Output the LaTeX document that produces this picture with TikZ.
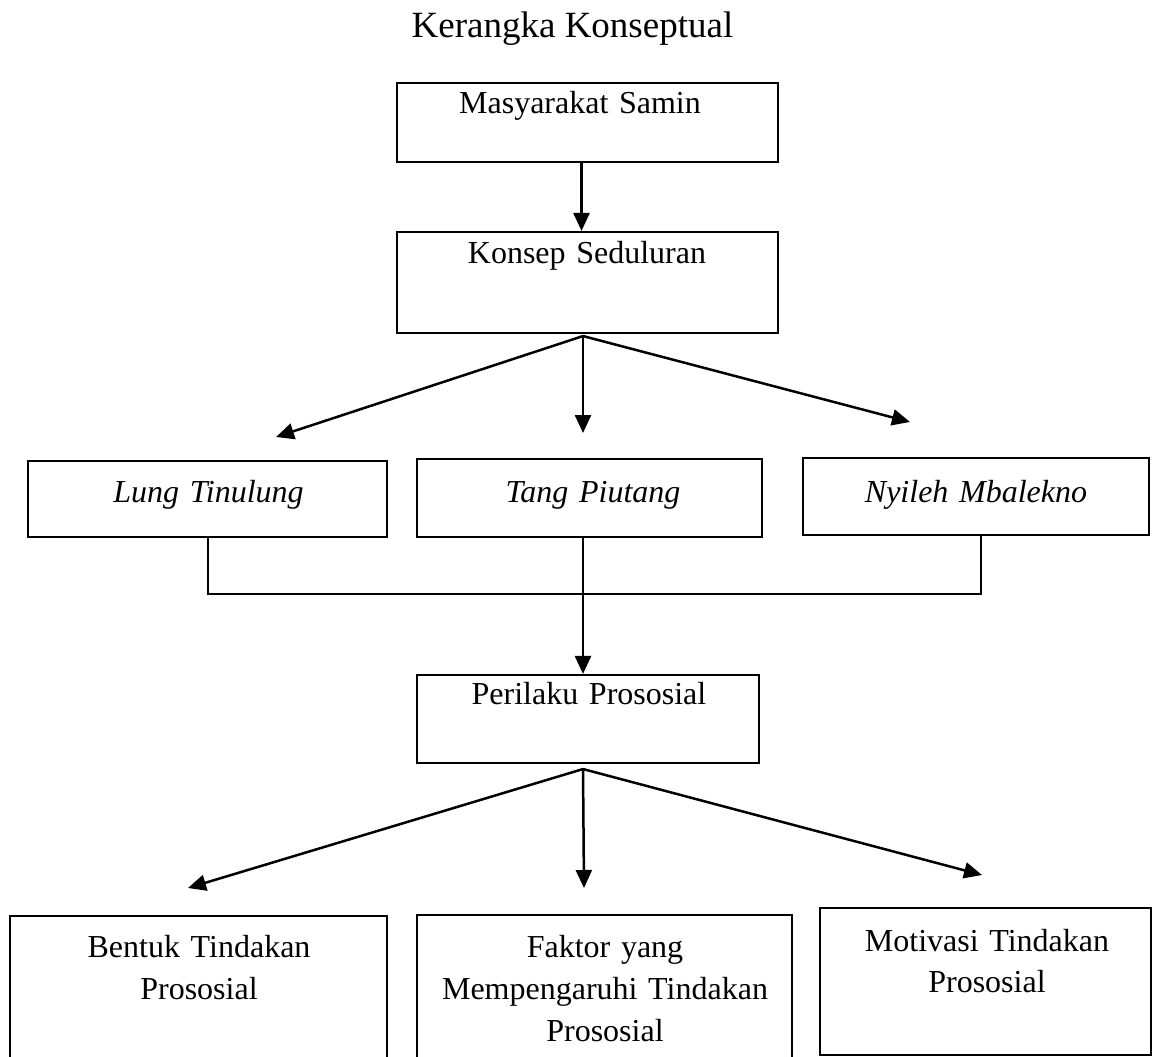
\documentclass[tikz,border=0pt]{standalone}
\usepackage{fontspec}
\setmainfont{Liberation Serif}
\usetikzlibrary{arrows.meta}
\begin{document}
\begin{tikzpicture}[x=1pt,y=-1pt,
  box/.style={draw, line width=2.1pt, inner sep=0pt, rectangle},
  lbl/.style={font=\fontsize{32}{42}\selectfont, inner sep=0pt, anchor=base, align=center, text width=340pt},
  conn/.style={line width=2.2pt},
  arr/.style={line width=2.5pt, -{Triangle[length=18pt,width=16pt]}}]
\useasboundingbox (0,0) rectangle (1154,1057);
\clip (0,0) rectangle (1154,1057);

% title
\node[font=\fontsize{37}{44}\selectfont, anchor=base, inner sep=0pt] (title) at (572.5,38) {Kerangka Konseptual};

% boxes
\node[box, minimum width=381pt, minimum height=79pt]  (ms) at (587.5,122.5) {};
\node[box, minimum width=381pt, minimum height=101pt] (ks) at (587.5,282.5) {};
\node[box, minimum width=359pt, minimum height=76pt]  (lt) at (207.5,499) {};
\node[box, minimum width=345pt, minimum height=78pt]  (tp) at (589.5,498) {};
\node[box, minimum width=346pt, minimum height=77pt]  (nm) at (976,496.5) {};
\node[box, minimum width=342pt, minimum height=88pt]  (pp) at (588,719) {};
\node[box, minimum width=377pt, minimum height=154pt] (bt) at (198.5,993) {};
\node[box, minimum width=375pt, minimum height=155pt] (ft) at (604.5,992.5) {};
\node[box, minimum width=331pt, minimum height=147pt] (mt) at (985.5,981.5) {};

% texts
\node[lbl] (msT) at (580,113) {Masyarakat Samin};
\node[lbl] (ksT) at (587,263) {Konsep Seduluran};
\node[lbl] (ltT) at (208.5,502) {\itshape Lung Tinulung};
\node[lbl] (tpT) at (593,502) {\itshape Tang Piutang};
\node[lbl] (nmT) at (976,502) {\itshape Nyileh Mbalekno};
\node[lbl] (ppT) at (589,704) {Perilaku Prososial};
\node[lbl] (btT) at (199,957) {Bentuk Tindakan\\Prososial};
\node[lbl] (ftT) at (605,957) {Faktor yang\\Mempengaruhi Tindakan\\Prososial};
\node[lbl, font=\fontsize{32}{41}\selectfont] (mtT) at (987,951) {Motivasi Tindakan\\Prososial};

% free arrow ends
\coordinate (k1) at (276,437);
\coordinate (k2) at (583,433);
\coordinate (k3) at (910,422);
\coordinate (p1) at (188,888);
\coordinate (p2) at (584,888);
\coordinate (p3) at (982,875);

% connectors
\draw[arr] ([xshift=-6pt]ms.south) -- ([xshift=-6pt]ks.north);
\draw[arr] ([xshift=-4.5pt,yshift=-2pt]ks.south) -- (k1);
\draw[arr] ([xshift=-4.5pt,yshift=-2pt]ks.south) -- (k2);
\draw[arr] ([xshift=-4.5pt,yshift=-2pt]ks.south) -- (k3);
\draw[conn] ([xshift=0.5pt]lt.south) -- ++(0,56) -| ([xshift=5pt]nm.south);
\draw[arr] ([xshift=-6.5pt]tp.south) -- ([xshift=-5pt]pp.north);
\draw[arr] ([xshift=-5pt,yshift=-5pt]pp.south) -- (p1);
\draw[arr] ([xshift=-5pt,yshift=-5pt]pp.south) -- (p2);
\draw[arr] ([xshift=-5pt,yshift=-5pt]pp.south) -- (p3);
\end{tikzpicture}
\end{document}
